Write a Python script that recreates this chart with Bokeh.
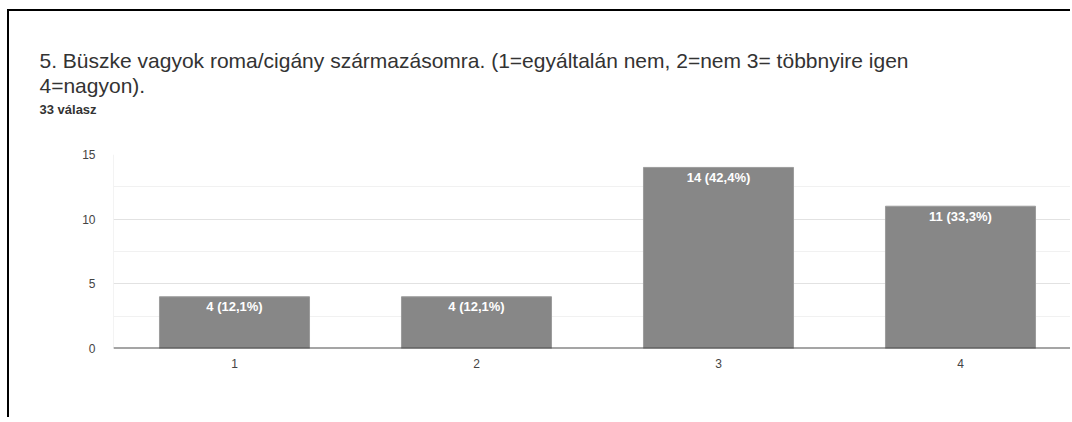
from bokeh.plotting import figure
from bokeh.models import (Range1d, FixedTicker, Title, Span, ColumnDataSource, LabelSet,
                          LinearAxis)
from bokeh.core.properties import value
from bokeh.embed import file_html
from bokeh.resources import INLINE

# ---- data ----
categories = ["1", "2", "3", "4"]
counts = [4, 4, 14, 11]
bar_labels = ["4 (12,1%)", "4 (12,1%)", "14 (42,4%)", "11 (33,3%)"]
y_ticks = [0, 5, 10, 15]
y_minor = [2.5, 7.5, 12.5]
title_line1 = "5. Büszke vagyok roma/cigány származásomra. (1=egyáltalán nem, 2=nem 3= többnyire igen"
title_line2 = "4=nagyon)."
subtitle = "33 válasz"

xs = list(range(1, len(categories) + 1))
src = ColumnDataSource(dict(x=xs, counts=counts, labels=bar_labels))

FONT = "Liberation Sans"
W, H = 1063, 408
LEFT, TOP, BOTTOM = 104, 143, 71
x_start = 0.5
x_end = 0.5 + (W - LEFT) / 242

p = figure(width=W, height=H, output_backend="svg", toolbar_location=None, title=None,
           x_range=Range1d(x_start, x_end), y_range=Range1d(0, 15),
           min_border_left=LEFT, min_border_right=0, min_border_top=TOP, min_border_bottom=BOTTOM)
p.styles = {"border-top": "2px solid #000", "border-left": "2px solid #000",
            "margin-left": "7px", "margin-top": "9px"}
p.outline_line_color = None
p.background_fill_color = "white"
p.border_fill_color = "white"

p.vbar(x="x", top="counts", width=0.62, source=src, fill_color="#878787",
       line_color="#9c9c9c", line_width=1)

p.add_layout(LabelSet(x="x", y="counts", text="labels", source=src, y_offset=-10,
                      text_align="center", text_baseline="middle", text_color="white",
                      text_font=value(FONT), text_font_size="13px", text_font_style="bold"))

# grid
p.xgrid.visible = False
p.ygrid.ticker = FixedTicker(ticks=y_ticks, minor_ticks=y_minor)
p.ygrid.grid_line_color = "#e2e2e2"
p.ygrid.minor_grid_line_color = "#f1f1f1"

p.add_layout(Span(location=x_start, dimension="height", line_color="#e8e8e8", line_width=1))
p.add_layout(Span(location=0, dimension="width", line_color="#4d4d4d", line_width=1.8))

# axes
for ax in (p.xaxis[0], p.yaxis[0]):
    ax.axis_line_color = None
    ax.major_tick_line_color = None
    ax.minor_tick_line_color = None
    ax.major_tick_out = 0
    ax.major_tick_in = 0
    ax.minor_tick_out = 0
    ax.minor_tick_in = 0
    ax.major_label_text_font = FONT
    ax.major_label_text_font_size = "12px"
    ax.major_label_text_color = "#444444"

p.yaxis[0].ticker = FixedTicker(ticks=y_ticks)
p.yaxis[0].major_label_standoff = 18
p.xaxis[0].ticker = FixedTicker(ticks=xs)
p.xaxis[0].major_label_overrides = {x: c for x, c in zip(xs, categories)}
p.xaxis[0].major_label_standoff = 10

# spacer between plot area and the header texts: an axis with one white (invisible) tick
spacer = LinearAxis(ticker=FixedTicker(ticks=[xs[0]]), major_label_overrides={xs[0]: ""},
                    axis_line_color=None, major_tick_line_color="white",
                    minor_tick_line_color=None, major_tick_out=34, major_tick_in=0,
                    minor_tick_out=0, minor_tick_in=0, major_label_standoff=0,
                    major_label_text_font_size="1px")
p.add_layout(spacer, "above")

# titles (first added = nearest the plot)
p.add_layout(Title(text=subtitle, align="left", offset=-74, standoff=7, text_font=FONT,
                   text_font_size="13px", text_font_style="bold", text_color="#333333"), "above")
p.add_layout(Title(text=title_line2, align="left", offset=-74, standoff=0, text_font=FONT,
                   text_font_size="21px", text_font_style="normal", text_color="#333333"), "above")
p.add_layout(Title(text=title_line1, align="left", offset=-74, standoff=0, text_font=FONT,
                   text_font_size="21px", text_font_style="normal", text_color="#333333"), "above")

open("out.html", "w").write(file_html(p, INLINE))
